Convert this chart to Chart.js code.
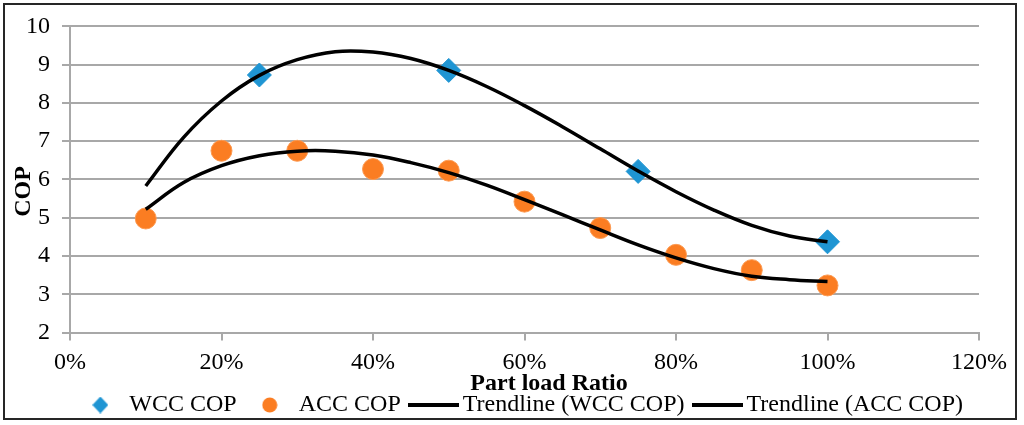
<!doctype html>
<html lang="en">
<head>
  <meta charset="utf-8">
  <title>COP vs Part load Ratio</title>
  <script src="https://cdn.jsdelivr.net/npm/chart.js"></script>
  <style>
    html, body { margin: 0; padding: 0; background: #fff; overflow: hidden; }
    #wrap { position: relative; width: 1024px; height: 425px; }
    #frame {
      position: absolute; left: 3px; top: 3px; width: 1014px; height: 417px;
      box-sizing: border-box; border: 2px solid #262626; pointer-events: none;
    }
  </style>
</head>
<body>
  <div id="wrap">
    <canvas id="cop" width="1024" height="425"></canvas>
    <div id="frame"></div>
  </div>

  <script>
    // measured points (part load in %)
    const wccLoad = [25, 50, 75, 100];
    const wccCop  = [8.73, 8.85, 6.21, 4.37];

    const accLoad = [10, 20, 30, 40, 50, 60, 70, 80, 90, 100];
    const accCop  = [4.98, 6.75, 6.75, 6.27, 6.23, 5.42, 4.73, 4.03, 3.63, 3.23];

    // trendlines, every 5 %
    const trendLoad = [10, 15, 20, 25, 30, 35, 40, 45, 50, 55, 60, 65, 70, 75, 80, 85, 90, 95, 100];
    const wccTrend  = [5.83, 7.10, 8.05, 8.72, 9.13, 9.34, 9.33, 9.16, 8.85, 8.43, 7.93, 7.38, 6.80, 6.22, 5.68, 5.20, 4.80, 4.52, 4.37];
    const accTrend  = [5.22, 5.92, 6.36, 6.62, 6.74, 6.74, 6.64, 6.44, 6.18, 5.85, 5.47, 5.08, 4.68, 4.29, 3.95, 3.67, 3.47, 3.38, 3.33];

    const xTicks = [0, 20, 40, 60, 80, 100, 120];
    const yTicks = [2, 3, 4, 5, 6, 7, 8, 9, 10];

    const xTitle = 'Part load Ratio';
    const yTitle = 'COP';

    const BLUE = '#1f95d3';
    const ORANGE = '#fb7d22';
    const GRID = '#a8a8a8';
    const FONT = '"Liberation Serif", "Times New Roman", serif';

    const pairs = (xs, ys) => xs.map((x, i) => ({ x: x, y: ys[i] }));

    // little legend icons
    function icon(w, h, draw) {
      const c = document.createElement('canvas');
      c.width = w; c.height = h;
      draw(c.getContext('2d'), w, h);
      return c;
    }
    const diamondIcon = icon(16, 17, (g, w, h) => {
      g.fillStyle = BLUE;
      g.beginPath();
      g.moveTo(w / 2, 0); g.lineTo(w, h / 2); g.lineTo(w / 2, h); g.lineTo(0, h / 2);
      g.closePath(); g.fill();
    });
    const circleIcon = icon(16, 16, (g) => {
      g.fillStyle = ORANGE;
      g.beginPath(); g.arc(8, 8, 7.5, 0, Math.PI * 2); g.fill();
    });
    const lineIcon = icon(51, 4, (g, w, h) => {
      g.fillStyle = '#000';
      g.fillRect(0, 0, w, 4);
    });
    const legendIcons = [diamondIcon, circleIcon, lineIcon, lineIcon];

    const axisTitles = {
      id: 'axisTitles',
      afterDraw(chart) {
        const ctx = chart.ctx;
        const area = chart.chartArea;
        ctx.save();
        ctx.fillStyle = '#000';
        ctx.font = 'bold 24px ' + FONT;
        ctx.textAlign = 'center';
        ctx.textBaseline = 'alphabetic';
        ctx.fillText(xTitle, area.left + 479, area.bottom + 57.5);
        ctx.translate(23.5, area.top + 165);
        ctx.rotate(-Math.PI / 2);
        ctx.textBaseline = 'middle';
        ctx.fillText(yTitle, 0, 0);
        ctx.restore();
      }
    };

    const tickFont = { family: FONT, size: 24 };

    new Chart(document.getElementById('cop'), {
      type: 'scatter',
      data: {
        datasets: [
          {
            label: 'WCC COP', data: pairs(wccLoad, wccCop), order: 2,
            pointStyle: 'rectRot', pointRadius: 12, pointHoverRadius: 12,
            backgroundColor: BLUE, borderColor: BLUE, borderWidth: 1
          },
          {
            label: 'ACC COP', data: pairs(accLoad, accCop), order: 2,
            pointStyle: 'circle', pointRadius: 10.5, pointHoverRadius: 10.5,
            backgroundColor: ORANGE, borderColor: '#fc9a52', borderWidth: 1
          },
          {
            label: 'Trendline (WCC COP)', data: pairs(trendLoad, wccTrend), order: 1,
            showLine: true, borderColor: '#000', borderWidth: 3.5, pointRadius: 0,
            tension: 0.4
          },
          {
            label: 'Trendline (ACC COP)', data: pairs(trendLoad, accTrend), order: 1,
            showLine: true, borderColor: '#000', borderWidth: 3.5, pointRadius: 0,
            tension: 0.4
          }
        ]
      },
      options: {
        responsive: false,
        animation: false,
        layout: { padding: { top: 17.5, right: 45, bottom: -2, left: 0 } },
        scales: {
          x: {
            type: 'linear', min: xTicks[0], max: xTicks[xTicks.length - 1],
            afterBuildTicks: s => { s.ticks = xTicks.map(v => ({ value: v })); },
            afterFit: s => { s.height = 44.5; },
            ticks: { font: tickFont, color: '#000', padding: 8, callback: v => v + '%' },
            grid: { drawOnChartArea: false, color: GRID, lineWidth: 2, tickLength: 8 },
            border: { color: GRID, width: 2 }
          },
          y: {
            min: yTicks[0], max: yTicks[yTicks.length - 1],
            afterBuildTicks: s => { s.ticks = yTicks.map(v => ({ value: v })); },
            afterFit: s => { s.width = 70; },
            ticks: { font: tickFont, color: '#000', padding: 12 },
            grid: { color: GRID, lineWidth: 2, tickLength: 8 },
            border: { color: GRID, width: 2 }
          }
        },
        plugins: {
          tooltip: { enabled: false },
          legend: {
            position: 'bottom',
            align: 'end',
            labels: {
              font: tickFont, color: '#000', padding: 16,
              usePointStyle: true, pointStyleWidth: 34,
              generateLabels: chart => chart.data.datasets.map((ds, i) => ({
                text: ds.label,
                pointStyle: legendIcons[i],
                fillStyle: ds.backgroundColor || '#000',
                strokeStyle: ds.borderColor,
                lineWidth: 0,
                hidden: false,
                datasetIndex: i
              }))
            }
          }
        }
      },
      plugins: [axisTitles]
    });
  </script>
</body>
</html>
